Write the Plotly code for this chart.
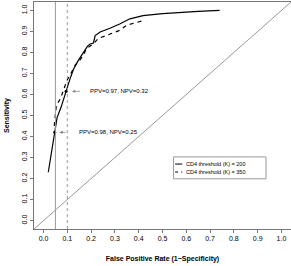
import plotly.graph_objects as go

# Data
k200_fpr = [0.02, 0.03, 0.047, 0.057, 0.074, 0.092, 0.105, 0.113, 0.126, 0.145, 0.168, 0.185,
            0.196, 0.21, 0.217, 0.238, 0.279, 0.32, 0.363, 0.418, 0.5, 0.557, 0.65, 0.74]
k200_sens = [0.23, 0.30, 0.42, 0.49, 0.54, 0.61, 0.65, 0.68, 0.72, 0.76, 0.80, 0.83,
             0.84, 0.845, 0.88, 0.897, 0.915, 0.935, 0.96, 0.975, 0.985, 0.99, 0.995, 1.0]
k350_fpr = [0.045, 0.054, 0.071, 0.085, 0.099, 0.115, 0.133, 0.15, 0.168, 0.18, 0.21, 0.23,
            0.265, 0.32, 0.35, 0.425]
k350_sens = [0.45, 0.55, 0.58, 0.62, 0.668, 0.70, 0.74, 0.76, 0.787, 0.818, 0.842, 0.866,
             0.88, 0.905, 0.93, 0.953]
mark_fpr = [0.047, 0.095]
mark_sens = [0.42, 0.615]
mark_text = ["PPV=0.98, NPV=0.25", "PPV=0.97, NPV=0.32"]
legend_labels = ["CD4 threshold (K) = 200", "CD4 threshold (K) = 350"]
vline_solid = 0.05
vline_dotted = 0.1
ticks = [0.0, 0.1, 0.2, 0.3, 0.4, 0.5, 0.6, 0.7, 0.8, 0.9, 1.0]

FONT = "Liberation Sans, Arial, sans-serif"
fig = go.Figure()

fig.add_trace(go.Scatter(x=[-0.04, 1.04], y=[-0.04, 1.04], mode="lines",
                         line=dict(color="#999999", width=1), showlegend=False, hoverinfo="skip"))
fig.add_trace(go.Scatter(x=k200_fpr, y=k200_sens, mode="lines",
                         line=dict(color="black", width=1.2), showlegend=False))
fig.add_trace(go.Scatter(x=k350_fpr, y=k350_sens, mode="lines",
                         line=dict(color="black", width=1.2, dash="4px,4px"), showlegend=False))
fig.add_trace(go.Scatter(x=mark_fpr, y=mark_sens, mode="markers",
                         marker=dict(color="black", size=3), showlegend=False))

shapes = [
    dict(type="line", xref="x", yref="paper", x0=vline_solid, x1=vline_solid, y0=0, y1=1,
         line=dict(color="#999999", width=1)),
    dict(type="line", xref="x", yref="paper", x0=vline_dotted, x1=vline_dotted, y0=0, y1=1,
         line=dict(color="#999999", width=1, dash="dot")),
    # legend box
    dict(type="rect", xref="x", yref="y", x0=0.546, x1=0.935, y0=0.199, y1=0.303,
         line=dict(color="#999999", width=1), fillcolor="white"),
    dict(type="line", xref="x", yref="y", x0=0.553, x1=0.583, y0=0.269, y1=0.269,
         line=dict(color="black", width=1)),
    dict(type="line", xref="x", yref="y", x0=0.553, x1=0.583, y0=0.231, y1=0.231,
         line=dict(color="black", width=1, dash="3px,3px")),
]

ann = []
arrow_tail = [0.1, 0.16]
arrow_head = [0.067, 0.12]
text_x = [0.142, 0.1875]
for i in range(2):
    ann.append(dict(x=arrow_head[i], y=mark_sens[i], ax=arrow_tail[i], ay=mark_sens[i],
                    xref="x", yref="y", axref="x", ayref="y", text="", showarrow=True,
                    arrowhead=2, arrowsize=0.8, arrowwidth=0.8, arrowcolor="#888888"))
    ann.append(dict(x=text_x[i], y=mark_sens[i], xref="x", yref="y", text=mark_text[i],
                    showarrow=False, xanchor="left", yanchor="middle",
                    font=dict(size=6, color="black", family=FONT)))
for i, (lab, yy) in enumerate(zip(legend_labels, [0.269, 0.231])):
    ann.append(dict(x=0.59, y=yy, xref="x", yref="y", text=lab, showarrow=False,
                    xanchor="left", yanchor="middle",
                    font=dict(size=5.5, color="black", family=FONT)))

fig.update_layout(
    width=291, height=266,
    margin=dict(l=34, r=0, t=2, b=37),
    plot_bgcolor="white", paper_bgcolor="white",
    shapes=shapes, annotations=ann, showlegend=False,
    font=dict(family=FONT, size=7, color="black"),
)
fig.update_xaxes(range=[-0.04, 1.04], tickvals=ticks, ticktext=[f"{t:.1f}" for t in ticks],
                 showgrid=False, zeroline=False, showline=True, mirror=True, automargin=False,
                 linecolor="#777777", linewidth=1, ticks="outside", ticklen=3,
                 tickcolor="#777777", tickfont=dict(size=7),
                 title=dict(text="<b>False Positive Rate (1\u2212Specificity)</b>",
                            font=dict(size=7), standoff=14))
fig.update_yaxes(range=[-0.04, 1.04], tickvals=ticks, ticktext=[f"{t:.1f}" for t in ticks],
                 showgrid=False, zeroline=False, showline=True, mirror=True, automargin=False,
                 linecolor="#777777", linewidth=1, ticks="outside", ticklen=3,
                 tickcolor="#777777", tickangle=-90, tickfont=dict(size=7),
                 title=dict(text="<b>Sensitivity</b>", font=dict(size=7), standoff=10))

fig.write_html("out.html", config={"displayModeBar": False},
               post_script="document.body.style.margin='0px';")
